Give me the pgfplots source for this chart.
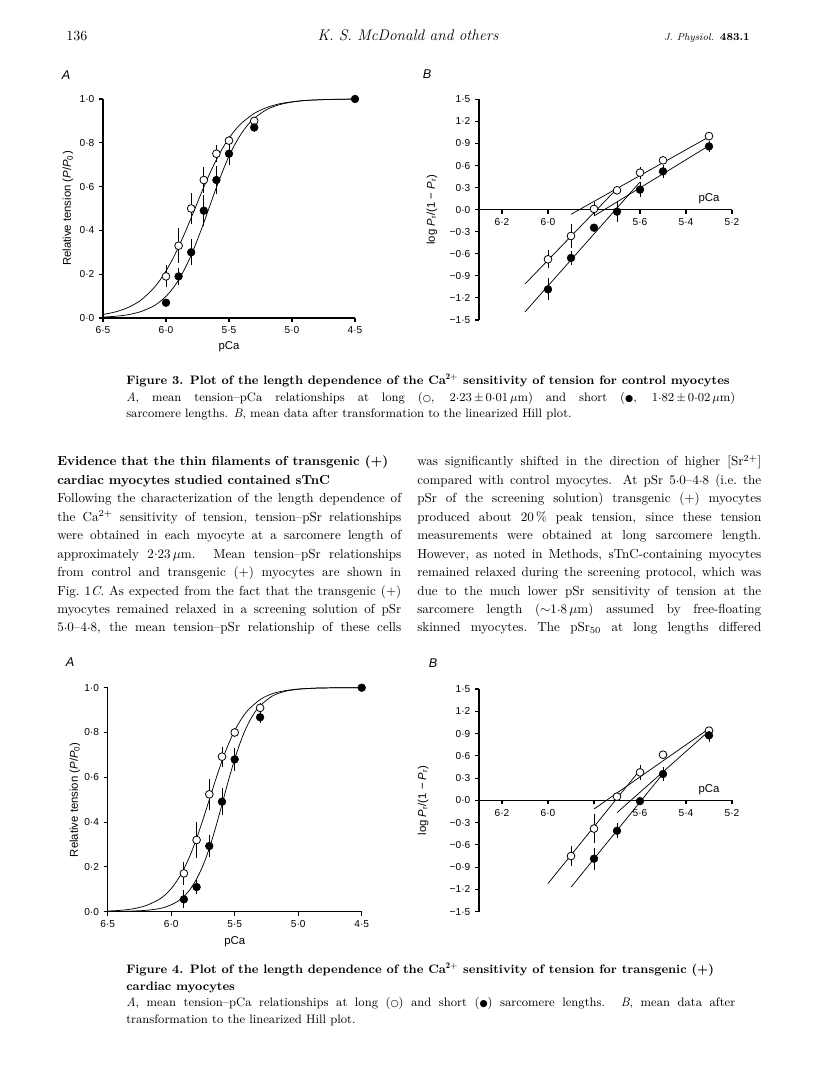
\documentclass[border=0pt]{standalone}
\usepackage{fontspec}
\usepackage{pgfplots}
\pgfplotsset{compat=1.18}
\newfontfamily\hv{Liberation Sans}
\newfontfamily\sym{DejaVu Sans}

\newcommand\bodyfont{\fontsize{9.8}{12}\selectfont}
\newcommand\capfont{\fontsize{9.2}{11}\selectfont}
\newcommand\circo{{\sym\fontsize{7}{8}\selectfont ○}}
\newcommand\circf{{\sym\fontsize{7}{8}\selectfont ●}}
\newcommand\cd{\raisebox{.4ex}{.}}
% one justified / ragged text line at a baseline (page pixels, y from bottom)
\newcommand\jline[5]{\node[anchor=base west,inner sep=0,font=#4] at (#1,#2) {\makebox[#3][s]{#5}};}
\newcommand\rline[4]{\node[anchor=base west,inner sep=0,font=#3] at (#1,#2) {#4};}

\pgfplotsset{
  paper/.style={
    scale only axis, x dir=reverse, clip=false,
    tick align=outside, major tick length=3pt,
    axis line style={line width=0.8pt},
    tick style={line width=0.8pt, black},
    ticklabel style={font=\hv\fontsize{7.6}{9}\selectfont},
    label style={font=\hv\fontsize{8.5}{10}\selectfont},
    hide obscured x ticks=false, hide obscured y ticks=false,
  },
  panelA/.style={paper, width=189pt,
    xmin=4.5, xmax=6.5, ymin=0, ymax=1,
    axis x line*=bottom, axis y line*=left,
    xtick={6.5,6.0,5.5,5.0,4.5}, xticklabels={6·5,6·0,5·5,5·0,4·5},
    ytick={0,0.2,0.4,0.6,0.8,1.0}, yticklabels={0·0,0·2,0·4,0·6,0·8,1·0},
    xlabel={pCa}, ylabel={Relative tension (\textit{P}/\textit{P}\textsubscript{0})},
  },
  panelB/.style={paper, width=189.75pt,
    xmin=5.2, xmax=6.3, ymin=-1.5, ymax=1.5,
    axis x line*=middle, axis y line*=left,
    xtick={6.2,6.0,5.8,5.6,5.4,5.2}, xticklabels={6·2,6·0,,5·6,5·4,5·2},
    ytick={-1.5,-1.2,-0.9,-0.6,-0.3,0,0.3,0.6,0.9,1.2,1.5},
    yticklabels={−1·5,−1·2,−0·9,−0·6,−0·3,0·0,0·3,0·6,0·9,1·2,1·5},
    ylabel={log \textit{P}\textsubscript{r}/(1 − \textit{P}\textsubscript{r})},
  },
  opn/.style={black, only marks, mark=*, mark size=2.9pt,
    mark options={fill=white, draw=black, line width=0.6pt},
    error bars/y dir=both, error bars/y explicit, error bars/error mark=none,
    error bars/error bar style={line width=0.6pt, black}},
  fil/.style={opn, mark options={fill=black, draw=black}},
  fit/.style={black, no marks, line width=0.55pt, smooth},
  seg/.style={black, no marks, line width=0.55pt},
}

\begin{document}
\begin{tikzpicture}[x=0.75pt,y=0.75pt]
\path[use as bounding box, fill=white] (0,0) rectangle (816,1088);

% running head
\node[anchor=base west,inner sep=0,font=\fontsize{10.5}{12}\selectfont] at (66,1047) {136};
\node[anchor=base,inner sep=0,font=\fontsize{11.5}{13}\selectfont\itshape] at (408,1047) {K. S. McDonald and others};
\node[anchor=base east,inner sep=0] at (750,1047) {{\fontsize{7.5}{9}\selectfont\itshape J. Physiol.} {\fontsize{8}{9}\selectfont\bfseries 483.1}};

% panel letters
\node[font=\hv\itshape\fontsize{9.5}{10}\selectfont] at (66,1013) {A};
\node[font=\hv\itshape\fontsize{9.5}{10}\selectfont] at (427,1014) {B};
\node[font=\hv\itshape\fontsize{9.5}{10}\selectfont] at (70,426) {A};
\node[font=\hv\itshape\fontsize{9.5}{10}\selectfont] at (433,425) {B};

% ---------- Figure 3A ----------
\begin{axis}[panelA, at={(77.25pt,577.5pt)}, anchor=south west, height=164.25pt,
  xlabel style={at={(axis description cs:0.5,-0.132)}, anchor=center},
  ylabel style={at={(axis description cs:-0.139,0.5)}, anchor=center}]
\addplot[fit] coordinates {(6.5,0.016) (6.4,0.028) (6.3,0.048) (6.2,0.081) (6.1,0.135) (6.05,0.171) (6.0,0.215) (5.95,0.266) (5.9,0.325) (5.85,0.389) (5.8,0.458) (5.75,0.528) (5.7,0.598) (5.65,0.663) (5.6,0.723) (5.55,0.776) (5.5,0.821) (5.45,0.859) (5.4,0.890) (5.3,0.934) (5.2,0.961) (5.1,0.978) (5.0,0.987) (4.9,0.993) (4.8,0.996) (4.7,0.998) (4.5,0.999)};
\addplot[fit] coordinates {(6.5,0.004) (6.4,0.008) (6.3,0.015) (6.2,0.029) (6.1,0.054) (6.05,0.074) (6.0,0.099) (5.95,0.132) (5.9,0.174) (5.85,0.226) (5.8,0.287) (5.75,0.358) (5.7,0.435) (5.65,0.516) (5.6,0.596) (5.55,0.671) (5.5,0.739) (5.45,0.796) (5.4,0.844) (5.35,0.882) (5.3,0.912) (5.2,0.952) (5.1,0.974) (5.0,0.986) (4.9,0.993) (4.8,0.996) (4.7,0.998) (4.5,1.0)};
\addplot[opn] coordinates {(6.0,0.19) +- (0,0.05) (5.9,0.33) +- (0,0.08) (5.8,0.50) +- (0,0.07) (5.7,0.63) +- (0,0.06) (5.6,0.75) +- (0,0.04) (5.5,0.81) +- (0,0.02) (5.3,0.90) +- (0,0.01)};
\addplot[fil] coordinates {(6.0,0.07) +- (0,0) (5.9,0.19) +- (0,0.04) (5.8,0.30) +- (0,0.06) (5.7,0.49) +- (0,0.07) (5.6,0.63) +- (0,0.065) (5.5,0.75) +- (0,0.05) (5.3,0.87) +- (0,0.02) (4.5,1.0) +- (0,0)};
\end{axis}

% ---------- Figure 3B ----------
\begin{axis}[panelB, at={(359.25pt,576pt)}, anchor=south west, height=165.5pt,
  ylabel style={at={(axis description cs:-0.186,0.5)}, anchor=center}]
\addplot[seg] coordinates {(6.1,-1.01) (5.7,0.285)};
\addplot[seg] coordinates {(5.9,-0.063) (5.3,0.99)};
\addplot[seg] coordinates {(6.1,-1.39) (5.6,0.376)};
\addplot[seg] coordinates {(5.8,-0.086) (5.3,0.87)};
\addplot[opn] coordinates {(6.0,-0.675) +- (0,0.12) (5.9,-0.358) +- (0,0.16) (5.8,0.01) +- (0,0.1) (5.7,0.263) +- (0,0.03) (5.6,0.503) +- (0,0.08) (5.5,0.67) +- (0,0.03) (5.3,1.0) +- (0,0.02)};
\addplot[fil] coordinates {(6.0,-1.083) +- (0,0.15) (5.9,-0.657) +- (0,0.1) (5.8,-0.245) +- (0,0.05) (5.7,-0.027) +- (0,0.14) (5.6,0.272) +- (0,0.1) (5.5,0.52) +- (0,0.09) (5.3,0.86) +- (0,0.08)};
\node[font=\hv\fontsize{8.5}{10}\selectfont] at (axis cs:5.30,0.15) {pCa};
\end{axis}

% ---------- Figure 3 caption ----------
\rline{126}{703}{\capfont\bfseries}{Figure 3. Plot of the length dependence of the Ca$^{\mathbf{2+}}$ sensitivity of tension for control myocytes}
\jline{126}{686}{456.75pt}{\capfont}{\textit{A}, mean tension--pCa relationships at long (\circo, 2\cd 23\,$\pm$\,0\cd 01\,$\mu$m) and short (\circf, 1\cd 82\,$\pm$\,0\cd 02\,$\mu$m)}
\rline{126}{670}{\capfont}{sarcomere lengths. \textit{B}, mean data after transformation to the linearized Hill plot.}

% ---------- body text, left column ----------
\rline{57}{622}{\bodyfont\bfseries}{Evidence that the thin filaments of transgenic (+)}
\rline{57}{603.6}{\bodyfont\bfseries}{cardiac myocytes studied contained sTnC}
\jline{57}{585.1}{258pt}{\bodyfont}{Following the characterization of the length dependence of}
\jline{57}{566.7}{258pt}{\bodyfont}{the Ca$^{2+}$ sensitivity of tension, tension--pSr relationships}
\jline{57}{548.2}{258pt}{\bodyfont}{were obtained in each myocyte at a sarcomere length of}
\jline{57}{529.8}{258pt}{\bodyfont}{approximately 2\cd 23\,$\mu$m. Mean tension--pSr relationships}
\jline{57}{511.4}{258pt}{\bodyfont}{from control and transgenic (+) myocytes are shown in}
\jline{57}{492.9}{258pt}{\bodyfont}{Fig.\ 1\textit{C}. As expected from the fact that the transgenic (+)}
\jline{57}{474.5}{258pt}{\bodyfont}{myocytes remained relaxed in a screening solution of pSr}
\jline{57}{456}{258pt}{\bodyfont}{5\cd 0--4\cd 8, the mean tension--pSr relationship of these cells}

% ---------- body text, right column ----------
\jline{417}{622}{258pt}{\bodyfont}{was significantly shifted in the direction of higher [Sr$^{2+}$]}
\jline{417}{603.6}{258pt}{\bodyfont}{compared with control myocytes. At pSr 5\cd 0--4\cd 8 (i.e.\ the}
\jline{417}{585.1}{258pt}{\bodyfont}{pSr of the screening solution) transgenic (+) myocytes}
\jline{417}{566.7}{258pt}{\bodyfont}{produced about 20\,\% peak tension, since these tension}
\jline{417}{548.2}{258pt}{\bodyfont}{measurements were obtained at long sarcomere length.}
\jline{417}{529.8}{258pt}{\bodyfont}{However, as noted in Methods, sTnC-containing myocytes}
\jline{417}{511.4}{258pt}{\bodyfont}{remained relaxed during the screening protocol, which was}
\jline{417}{492.9}{258pt}{\bodyfont}{due to the much lower pSr sensitivity of tension at the}
\jline{417}{474.5}{258pt}{\bodyfont}{sarcomere length ($\sim$1\cd 8\,$\mu$m) assumed by free-floating}
\jline{417}{456}{258pt}{\bodyfont}{skinned myocytes.\ The pSr$_{50}$ at long lengths differed}

% ---------- Figure 4A ----------
\begin{axis}[panelA, at={(80.775pt,132.225pt)}, anchor=south west, width=190.5pt, height=168pt,
  xlabel style={at={(axis description cs:0.5,-0.135)}, anchor=center},
  ylabel style={at={(axis description cs:-0.129,0.5)}, anchor=center}]
\addplot[fit] coordinates {(6.5,0.003) (6.4,0.006) (6.3,0.013) (6.2,0.027) (6.1,0.053) (6.05,0.074) (6.0,0.103) (5.95,0.142) (5.9,0.191) (5.85,0.253) (5.8,0.327) (5.75,0.411) (5.7,0.5) (5.65,0.589) (5.6,0.673) (5.55,0.747) (5.5,0.809) (5.45,0.858) (5.4,0.897) (5.3,0.947) (5.2,0.974) (5.1,0.987) (5.0,0.994) (4.9,0.997) (4.8,0.999) (4.5,1.0)};
\addplot[fit] coordinates {(6.5,0.001) (6.4,0.001) (6.3,0.003) (6.2,0.006) (6.1,0.013) (6.05,0.020) (6.0,0.031) (5.95,0.046) (5.9,0.068) (5.85,0.101) (5.8,0.146) (5.75,0.206) (5.7,0.283) (5.65,0.376) (5.6,0.479) (5.55,0.584) (5.5,0.681) (5.45,0.765) (5.4,0.832) (5.35,0.883) (5.3,0.920) (5.2,0.964) (5.1,0.984) (5.0,0.993) (4.9,0.997) (4.8,0.999) (4.5,1.0)};
\addplot[opn] coordinates {(5.9,0.171) +- (0,0.05) (5.8,0.32) +- (0,0.08) (5.7,0.524) +- (0,0.07) (5.6,0.692) +- (0,0.045) (5.5,0.80) +- (0,0.02) (5.3,0.91) +- (0,0.02)};
\addplot[fil] coordinates {(5.9,0.055) +- (0,0.04) (5.8,0.11) +- (0,0.03) (5.7,0.293) +- (0,0.05) (5.6,0.491) +- (0,0.06) (5.5,0.68) +- (0,0.05) (5.3,0.868) +- (0,0.025) (4.5,1.0) +- (0,0)};
\end{axis}

% ---------- Figure 4B ----------
\begin{axis}[panelB, at={(359.25pt,132.225pt)}, anchor=south west, height=167pt,
  ylabel style={at={(axis description cs:-0.221,0.5)}, anchor=center}]
\addplot[seg] coordinates {(6.0,-1.12) (5.6,0.41)};
\addplot[seg] coordinates {(5.8,-0.117) (5.3,0.965)};
\addplot[seg] coordinates {(5.9,-1.17) (5.5,0.36)};
\addplot[seg] coordinates {(5.7,-0.166) (5.3,0.934)};
\addplot[opn] coordinates {(5.9,-0.75) +- (0,0.13) (5.8,-0.38) +- (0,0.2) (5.7,0.05) +- (0,0.05) (5.6,0.377) +- (0,0.1) (5.5,0.615) +- (0,0.03) (5.3,0.94) +- (0,0.03)};
\addplot[fil] coordinates {(5.8,-0.786) +- (0,0.15) (5.7,-0.41) +- (0,0.1) (5.6,-0.01) +- (0,0.04) (5.5,0.355) +- (0,0.1) (5.3,0.876) +- (0,0.09)};
\node[font=\hv\fontsize{8.5}{10}\selectfont] at (axis cs:5.30,0.15) {pCa};
\end{axis}

% ---------- Figure 4 caption ----------
\rline{126}{114}{\capfont\bfseries}{Figure 4. Plot of the length dependence of the Ca$^{\mathbf{2+}}$ sensitivity of tension for transgenic (+)}
\rline{126}{97.5}{\capfont\bfseries}{cardiac myocytes}
\jline{126}{81}{456.75pt}{\capfont}{\textit{A}, mean tension--pCa relationships at long (\circo) and short (\circf) sarcomere lengths. \textit{B}, mean data after}
\rline{126}{64.5}{\capfont}{transformation to the linearized Hill plot.}
\end{tikzpicture}
\end{document}
